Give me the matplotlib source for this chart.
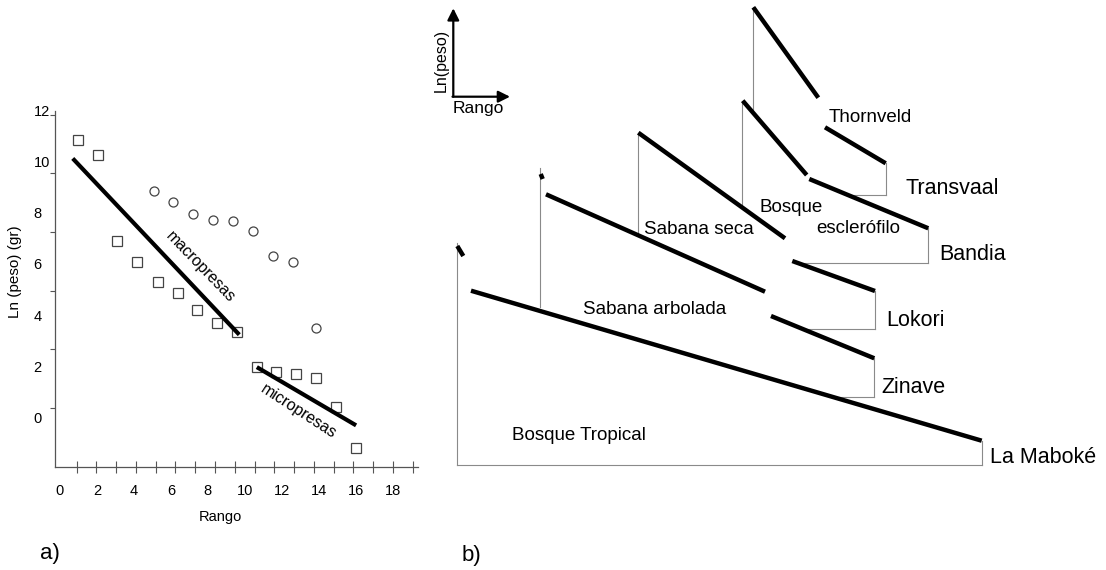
import numpy as np
import matplotlib
matplotlib.use("Agg")
import matplotlib.pyplot as plt

plt.rcParams['font.family'] = ['Liberation Sans', 'DejaVu Sans']

# ---------------- panel a) data (read in axis label units) ----------------
sq_rango = [0.96, 2.04, 3.10, 4.17, 5.30, 6.38, 7.43, 8.48, 9.56, 10.65,
            11.69, 12.75, 13.84, 14.94, 16.02]
sq_lnpeso = [10.84, 10.26, 6.91, 6.08, 5.28, 4.85, 4.21, 3.67, 3.33, 1.96,
             1.78, 1.68, 1.55, 0.40, -1.19]
ci_rango = [5.09, 6.13, 7.21, 8.26, 9.38, 10.46, 11.54, 12.59, 13.85]
ci_lnpeso = [8.87, 8.42, 7.96, 7.72, 7.68, 7.28, 6.33, 6.07, 3.48]
macro_x = [0.69, 9.70]
macro_y = [10.13, 3.23]
micro_x = [10.65, 16.02]
micro_y = [1.96, -0.32]
xtick_vals = [0, 2, 4, 6, 8, 10, 12, 14, 16, 18]
ytick_vals = [0, 2, 4, 6, 8, 10, 12]

# ---------------- panel b) schematic (arbitrary rango / ln(peso) units) ----------------
communities = ['La Maboké', 'Zinave', 'Lokori', 'Bandia', 'Transvaal']
habitats = ['Bosque Tropical', 'Sabana arbolada', 'Sabana seca',
            'Bosque\nesclerófilo', 'Thornveld']
# thick regression pieces: (x0, y0, x1, y1)
stub = [(0.6, 219, 6.6, 209), (84, 291, 86, 286), None, None, None]
macro_seg = [(14.3, 174.3, 525, 24.3), (89.3, 270.7, 308.3, 173.3),
             (181.6, 332.3, 328.3, 226.7), (286, 364.3, 350, 290),
             (296.6, 457.7, 361.6, 367.3)]
micro_seg = [None, (314.3, 149, 417.6, 106.7), (335.6, 204, 418.3, 174),
             (352.6, 286, 471.6, 236.7), (368.3, 337.7, 429, 301.7)]
# frame: left vertical (x, ytop, ybottom), right vertical (x, ytop, ybottom), bottom (y, xleft)
left_v = [(0, 221.7, 0), (83.3, 296.7, 158.3), (181, 332.3, 230),
          (285, 364.3, 260), (296, 457.7, 353)]
right_v = [(525, 24.3, 0), (417, 106.7, 68.3), (418, 174, 136),
           (471.6, 236.7, 202.3), (429, 301.7, 270)]
bottom_x0 = [0, 375.3, 346.6, 337, 393]

fig = plt.figure(figsize=(11.06, 5.70), dpi=100)
W, H = 1106, 570

# ======================= panel a =======================
ax = fig.add_axes([55 / W, 1 - 467 / H, (418 - 55) / W, (467 - 110.7) / H])
ax.set_xlim(-0.27, 19.37)
ax.set_ylim(-1.95, 11.87)
for s in ['top', 'right']:
    ax.spines[s].set_visible(False)
for s in ['left', 'bottom']:
    ax.spines[s].set_color('#555555')
    ax.spines[s].set_linewidth(0.9)

ax.plot(sq_rango, sq_lnpeso, linestyle='none', marker='s', markersize=6.5,
        markerfacecolor='white', markeredgecolor='#444444', markeredgewidth=0.9, zorder=3)
ax.plot(ci_rango, ci_lnpeso, linestyle='none', marker='o', markersize=6.5,
        markerfacecolor='white', markeredgecolor='#444444', markeredgewidth=0.9, zorder=3)
ax.plot(macro_x, macro_y, color='black', linewidth=3, solid_capstyle='butt', zorder=4)
ax.plot(micro_x, micro_y, color='black', linewidth=3, solid_capstyle='butt', zorder=4)

ax.text(7.58, 5.87, 'macropresas', rotation=-46, rotation_mode='anchor',
        ha='center', va='center', fontsize=11.5)
ax.text(12.9, 0.23, 'micropresas', rotation=-33, rotation_mode='anchor',
        ha='center', va='center', fontsize=11.5)

# labels and tick marks of the original do not share one grid
ax.set_xticks(xtick_vals)
ax.set_yticks(ytick_vals)
ax.set_xticks(0.904 + 1.069 * np.arange(18), minor=True)
ax.set_yticks(11.85 - 2.297 * np.arange(6), minor=True)
ax.tick_params(axis='both', which='major', length=0, labelsize=10.5)
ax.tick_params(axis='x', which='major', pad=12)
ax.tick_params(axis='y', which='major', pad=15.5)
for lab in ax.get_yticklabels():
    lab.set_horizontalalignment('left')
ax.tick_params(axis='x', which='minor', direction='inout', length=8,
               width=0.8, color='#555555')
ax.tick_params(axis='y', which='minor', direction='out', length=3.5,
               width=0.8, color='#555555')

fig.text(220 / W, 1 - 516.7 / H, 'Rango', ha='center', va='center', fontsize=10.5)
fig.text(15 / W, 1 - 272 / H, 'Ln (peso) (gr)', rotation=90, ha='center',
         va='center', fontsize=11)
fig.text(40 / W, 1 - 553 / H, 'a)', ha='left', va='center', fontsize=16)
fig.text(462 / W, 1 - 555 / H, 'b)', ha='left', va='center', fontsize=16)

# ======================= panel b =======================
bx = fig.add_axes([430 / W, 0, (W - 430) / W, 1])
bx.set_xlim(-26.7, 649.3)
bx.set_ylim(-105, 465)
bx.axis('off')

thin = dict(color='#8a8a8a', linewidth=0.8, zorder=1)
thick = dict(color='black', linewidth=3.2, solid_capstyle='butt', zorder=3)

for i in range(len(communities)):
    lx, lt, lb = left_v[i]
    bx.plot([lx, lx], [lt, lb], **thin)
    rx, rt, rb = right_v[i]
    bx.plot([rx, rx], [rt, rb], **thin)
    bx.plot([bottom_x0[i], rx], [rb, rb], **thin)
    for seg in (stub[i], macro_seg[i], micro_seg[i]):
        if seg is not None:
            bx.plot([seg[0], seg[2]], [seg[1], seg[3]], **thick)

name_pos = [(533.3, 7.3), (425, 77.3), (429.3, 144.3), (482.3, 210), (449, 276)]
hab_pos = [(55, 30), (126.6, 155), (187.3, 235.7), (302.6, 247), (371.6, 347.7)]
for i in range(len(communities)):
    bx.text(name_pos[i][0], name_pos[i][1], communities[i], ha='left',
            va='center', fontsize=15.5)
    if '\n' in habitats[i]:
        first, second = habitats[i].split('\n')
        bx.text(hab_pos[i][0], 257.7, first, ha='left', va='center', fontsize=13.5)
        bx.text(360, 236.7, second, ha='left', va='center', fontsize=13.5)
    else:
        bx.text(hab_pos[i][0], hab_pos[i][1], habitats[i], ha='left',
                va='center', fontsize=13.5)

# small axes key
arrow = dict(arrowstyle='-|>,head_length=0.5,head_width=0.25', color='black',
             linewidth=1.6, mutation_scale=14, shrinkA=0, shrinkB=0)
bx.annotate('', xy=(-3.4, 456.7), xytext=(-3.4, 368.3), arrowprops=arrow)
bx.annotate('', xy=(53.3, 368.3), xytext=(-4.2, 368.3), arrowprops=arrow)
bx.text(-15, 405, 'Ln(peso)', rotation=90, ha='center', va='center', fontsize=11.5)
bx.text(-4, 357, 'Rango', ha='left', va='center', fontsize=12.5)

fig.savefig('out.png', dpi=100, facecolor='white')
